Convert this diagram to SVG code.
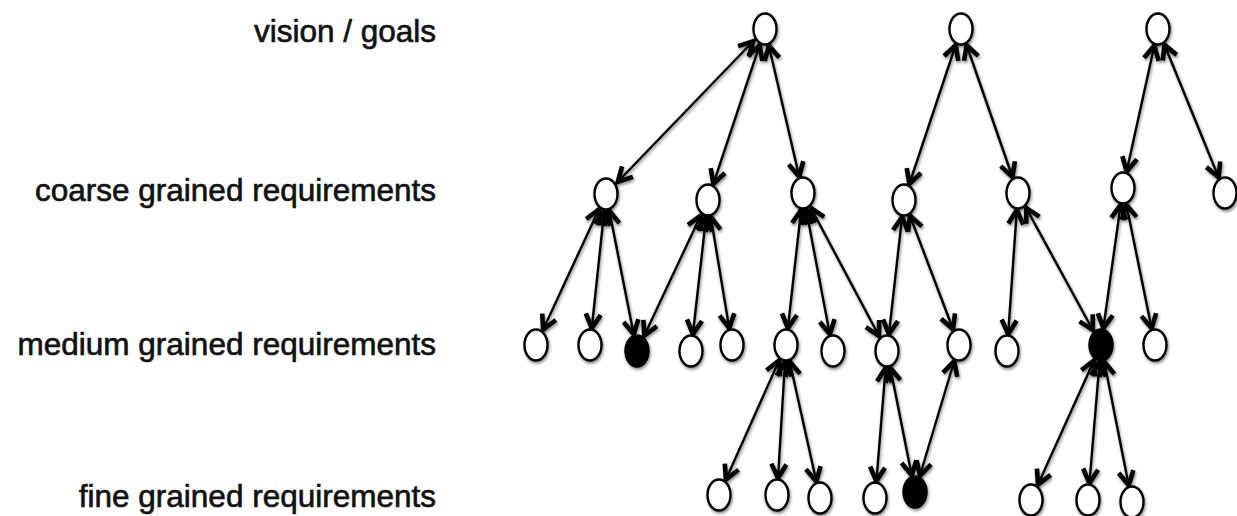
<svg xmlns="http://www.w3.org/2000/svg" width="1237" height="516" viewBox="0 0 1237 516">
<defs>
<filter id="sh" x="-20%" y="-20%" width="140%" height="140%">
<feDropShadow dx="1" dy="2" stdDeviation="1.5" flood-color="#000" flood-opacity="0.45"/>
</filter>
<marker id="ah" markerUnits="userSpaceOnUse" markerWidth="30" markerHeight="30" refX="17" refY="0" orient="auto-start-reverse" overflow="visible">
<path d="M-14,-7.5 L0,0 L-14,7.5" fill="none" stroke="#000" stroke-width="4.6" stroke-linejoin="miter" stroke-miterlimit="6" stroke-linecap="butt"/>
</marker>
</defs>
<style>
.lbl{font-family:"Liberation Sans",Arial,Helvetica,sans-serif;font-size:31.5px;fill:#111;stroke:#111;stroke-width:0.65;text-anchor:end}
.e{stroke:#000;stroke-width:2.4;fill:none;marker-start:url(#ah);marker-end:url(#ah)}
.n{fill:#fff;stroke:#000;stroke-width:2.4}
.f{fill:#000;stroke:#000;stroke-width:2.4}
</style>
<rect width="1237" height="516" fill="#fff"/>
<g id="labels">
<text class="lbl" x="436" y="42">vision / goals</text>
<text class="lbl" x="436" y="201">coarse grained requirements</text>
<text class="lbl" x="436" y="355">medium grained requirements</text>
<text class="lbl" x="436" y="507">fine grained requirements</text>
</g>
<g id="connectors" filter="url(#sh)">
<line class="e" x1="765" y1="29" x2="606" y2="194"/>
<line class="e" x1="765" y1="29" x2="708" y2="200"/>
<line class="e" x1="765" y1="29" x2="803" y2="193"/>
<line class="e" x1="961" y1="29" x2="904" y2="200"/>
<line class="e" x1="961" y1="29" x2="1018" y2="193"/>
<line class="e" x1="1158" y1="29" x2="1123" y2="188"/>
<line class="e" x1="1158" y1="29" x2="1225" y2="193"/>
<line class="e" x1="606" y1="194" x2="536" y2="345"/>
<line class="e" x1="606" y1="194" x2="590" y2="345"/>
<line class="e" x1="606" y1="194" x2="637" y2="351"/>
<line class="e" x1="708" y1="200" x2="637" y2="351"/>
<line class="e" x1="708" y1="200" x2="691" y2="351"/>
<line class="e" x1="708" y1="200" x2="732" y2="345"/>
<line class="e" x1="803" y1="193" x2="786" y2="345"/>
<line class="e" x1="803" y1="193" x2="833" y2="351"/>
<line class="e" x1="803" y1="193" x2="887" y2="351"/>
<line class="e" x1="904" y1="200" x2="887" y2="351"/>
<line class="e" x1="904" y1="200" x2="959" y2="345"/>
<line class="e" x1="1018" y1="193" x2="1007" y2="351"/>
<line class="e" x1="1018" y1="193" x2="1101" y2="345"/>
<line class="e" x1="1123" y1="188" x2="1101" y2="345"/>
<line class="e" x1="1123" y1="188" x2="1155" y2="345"/>
<line class="e" x1="786" y1="345" x2="719" y2="495"/>
<line class="e" x1="786" y1="345" x2="777" y2="495"/>
<line class="e" x1="786" y1="345" x2="820" y2="498"/>
<line class="e" x1="887" y1="351" x2="875" y2="498"/>
<line class="e" x1="887" y1="351" x2="915" y2="492"/>
<line class="e" x1="959" y1="345" x2="915" y2="492"/>
<line class="e" x1="1101" y1="345" x2="1031" y2="500"/>
<line class="e" x1="1101" y1="345" x2="1088" y2="500"/>
<line class="e" x1="1101" y1="345" x2="1132" y2="502"/>
</g>
<g id="nodes" filter="url(#sh)">
<g id="v1"><ellipse class="n" cx="765" cy="29" rx="11.5" ry="15.5"/></g>
<g id="v2"><ellipse class="n" cx="961" cy="29" rx="11.5" ry="15.5"/></g>
<g id="v3"><ellipse class="n" cx="1158" cy="29" rx="11.5" ry="15.5"/></g>
<g id="c1"><ellipse class="n" cx="606" cy="194" rx="11.5" ry="15.5"/></g>
<g id="c2"><ellipse class="n" cx="708" cy="200" rx="11.5" ry="15.5"/></g>
<g id="c3"><ellipse class="n" cx="803" cy="193" rx="11.5" ry="15.5"/></g>
<g id="c4"><ellipse class="n" cx="904" cy="200" rx="11.5" ry="15.5"/></g>
<g id="c5"><ellipse class="n" cx="1018" cy="193" rx="11.5" ry="15.5"/></g>
<g id="c6"><ellipse class="n" cx="1123" cy="188" rx="11.5" ry="15.5"/></g>
<g id="c7"><ellipse class="n" cx="1225" cy="193" rx="11.5" ry="15.5"/></g>
<g id="m1"><ellipse class="n" cx="536" cy="345" rx="11.5" ry="15.5"/></g>
<g id="m2"><ellipse class="n" cx="590" cy="345" rx="11.5" ry="15.5"/></g>
<g id="m3"><ellipse class="f" cx="637" cy="351" rx="11.5" ry="15.5"/></g>
<g id="m4"><ellipse class="n" cx="691" cy="351" rx="11.5" ry="15.5"/></g>
<g id="m5"><ellipse class="n" cx="732" cy="345" rx="11.5" ry="15.5"/></g>
<g id="m6"><ellipse class="n" cx="786" cy="345" rx="11.5" ry="15.5"/></g>
<g id="m7"><ellipse class="n" cx="833" cy="351" rx="11.5" ry="15.5"/></g>
<g id="m8"><ellipse class="n" cx="887" cy="351" rx="11.5" ry="15.5"/></g>
<g id="m9"><ellipse class="n" cx="959" cy="345" rx="11.5" ry="15.5"/></g>
<g id="m10"><ellipse class="n" cx="1007" cy="351" rx="11.5" ry="15.5"/></g>
<g id="m11"><ellipse class="f" cx="1101" cy="345" rx="11.5" ry="15.5"/></g>
<g id="m12"><ellipse class="n" cx="1155" cy="345" rx="11.5" ry="15.5"/></g>
<g id="f1"><ellipse class="n" cx="719" cy="495" rx="11.5" ry="15.5"/></g>
<g id="f2"><ellipse class="n" cx="777" cy="495" rx="11.5" ry="15.5"/></g>
<g id="f3"><ellipse class="n" cx="820" cy="498" rx="11.5" ry="15.5"/></g>
<g id="f4"><ellipse class="n" cx="875" cy="498" rx="11.5" ry="15.5"/></g>
<g id="f5"><ellipse class="f" cx="915" cy="492" rx="11.5" ry="15.5"/></g>
<g id="f6"><ellipse class="n" cx="1031" cy="500" rx="11.5" ry="15.5"/></g>
<g id="f7"><ellipse class="n" cx="1088" cy="500" rx="11.5" ry="15.5"/></g>
<g id="f8"><ellipse class="n" cx="1132" cy="502" rx="11.5" ry="15.5"/></g>
</g>
</svg>
